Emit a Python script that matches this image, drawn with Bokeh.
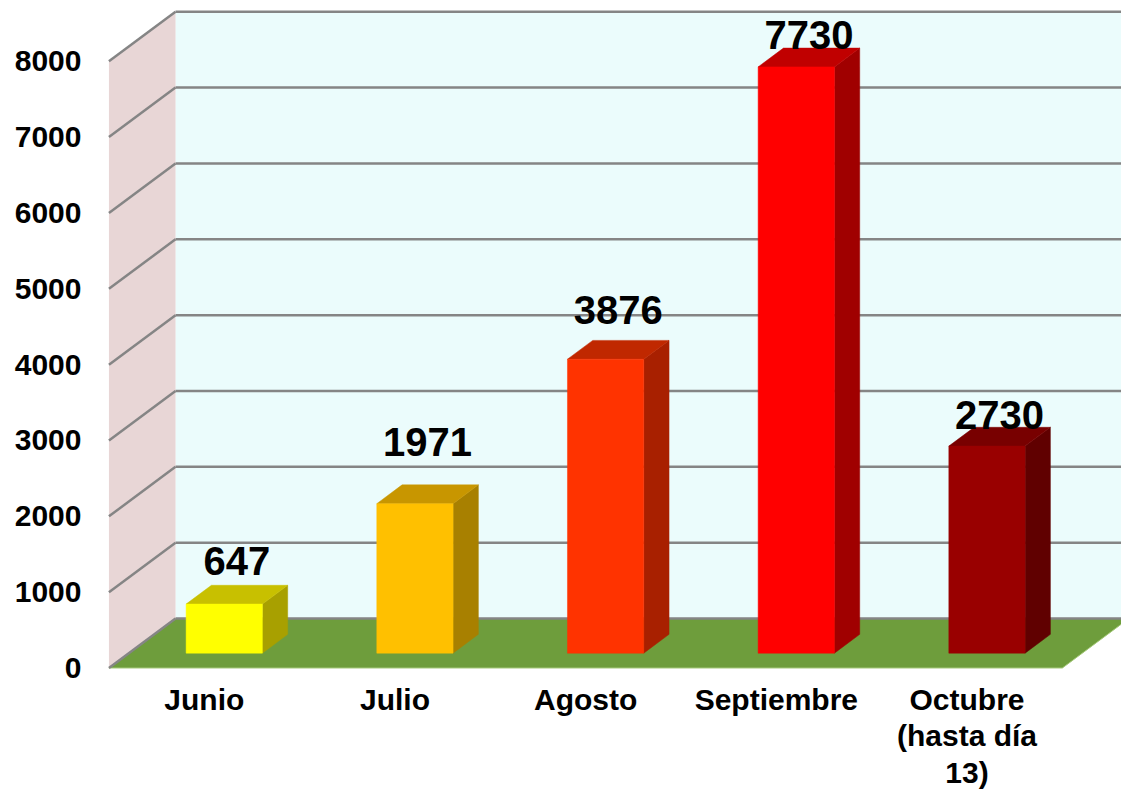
from bokeh.plotting import figure
from bokeh.models import Range1d, FixedTicker, ColumnDataSource
from bokeh.core.properties import value
from bokeh.embed import file_html
from bokeh.resources import INLINE

# ---- data ----
categories = ["Junio", "Julio", "Agosto", "Septiembre", "Octubre\n(hasta día\n13)"]
values = [647, 1971, 3876, 7730, 2730]
y_ticks = [0, 1000, 2000, 3000, 4000, 5000, 6000, 7000, 8000]

# ---- styles ----
front_colors = ["#FFFF00", "#FFC000", "#FF3300", "#FF0000", "#990000"]
top_colors = ["#C8C000", "#C89600", "#C02800", "#C00000", "#780000"]
side_colors = ["#A8A000", "#A88000", "#A82000", "#A00000", "#600000"]
label_offset_px = [8, 27, 14, -3, -4]   # label baseline above bar's back top edge

FONT = "Liberation Sans"
W, H = 1121, 792
SX, SY = W / 1137.0, H / 808.0          # reference px -> figure px
SLOT_PX = 193.4 * SX
PX_PER_VAL = (681 - 62) / 8000.0 * SY
FRONT_X0 = 110 * SX
FRONT_Y0 = 681 * SY
FRAME_LEFT = 98
DX = 67.5 / 193.4                        # depth offset in slot units
DY = 50.5 / ((681 - 62) / 8000.0)        # depth offset in value units
BAR_W = 0.40
D0, D1 = 0.30, 0.68
YMAX = 8000
VAL_FS, AX_FS = 40, 30
VAL_SHIFT = 6                            # px, calibration of text box

x0 = (FRAME_LEFT - FRONT_X0) / SLOT_PX
x1 = (W - FRONT_X0) / SLOT_PX
y0 = -(H - FRONT_Y0) / PX_PER_VAL
y1 = FRONT_Y0 / PX_PER_VAL

p = figure(width=W, height=H, output_backend="svg", toolbar_location=None,
           x_range=Range1d(x0, x1), y_range=Range1d(y0, y1),
           x_axis_location=None, y_axis_location="left",
           min_border_left=FRAME_LEFT, min_border_right=0,
           min_border_top=0, min_border_bottom=0)
p.outline_line_color = None
p.xgrid.visible = False
p.ygrid.visible = False
p.background_fill_color = "white"
p.border_fill_color = "white"

ax = p.yaxis[0]
ax.ticker = FixedTicker(ticks=y_ticks)
ax.axis_line_color = None
ax.major_tick_line_color = None
ax.minor_tick_line_color = None
ax.major_tick_out = 0
ax.major_tick_in = 0
ax.major_label_standoff = 17
ax.major_label_text_font = FONT
ax.major_label_text_font_style = "bold"
ax.major_label_text_font_size = f"{AX_FS}px"
ax.major_label_text_color = "black"

n = len(categories)
# walls and floor
p.patch([DX, n + DX + 1, n + DX + 1, DX], [DY, DY, YMAX + DY, YMAX + DY],
        fill_color="#EBFCFC", line_color=None)
p.patch([0, DX, DX, 0], [0, DY, YMAX + DY, YMAX],
        fill_color="#E8D6D6", line_color=None)
p.patch([0, n, n + DX, DX], [0, 0, DY, DY],
        fill_color="#6E9D3C", line_color="#A5C97A", line_width=1)

# gridlines
for t in y_ticks:
    p.line([DX, n + DX + 1], [t + DY, t + DY], line_color="#858585", line_width=2.5)
    p.line([0, DX], [t, t + DY], line_color="#858585", line_width=2.5)

# bars
fx, fy, tx, ty, sx, sy = [], [], [], [], [], []
for i, v in enumerate(values):
    c = i + 0.5
    xl = c - BAR_W / 2 + D0 * DX
    xr = c + BAR_W / 2 + D0 * DX
    b = D0 * DY
    t = v + D0 * DY
    d = (D1 - D0)
    fx.append([xl, xr, xr, xl]); fy.append([b, b, t, t])
    tx.append([xl, xr, xr + d * DX, xl + d * DX]); ty.append([t, t, t + d * DY, t + d * DY])
    sx.append([xr, xr + d * DX, xr + d * DX, xr]); sy.append([b, b + d * DY, t + d * DY, t])

p.patches(sx, sy, fill_color=side_colors, line_color=side_colors, line_width=0.5)
p.patches(tx, ty, fill_color=top_colors, line_color=top_colors, line_width=0.5)
p.patches(fx, fy, fill_color=front_colors, line_color=front_colors, line_width=0.5)

# value labels
asc = 0.905
lab = ColumnDataSource(dict(
    x=[i + 0.5 + (D0 + (D1 - D0) / 2) * DX for i in range(n)],
    y=[v + D1 * DY + (off * SY + asc * VAL_FS - VAL_SHIFT) / PX_PER_VAL
       for v, off in zip(values, label_offset_px)],
    text=[str(v) for v in values]))
p.text(x="x", y="y", text="text", source=lab, text_font=value(FONT),
       text_font_style="bold", text_font_size=f"{VAL_FS}px", text_color="black",
       text_align="center", text_baseline="top")

# category labels
cat_top_px = 702 * SY - (asc - 0.716) * AX_FS
cat = ColumnDataSource(dict(
    x=[i + 0.5 for i in range(n)],
    y=[-(cat_top_px - FRONT_Y0) / PX_PER_VAL] * n,
    text=categories))
p.text(x="x", y="y", text="text", source=cat, text_font=value(FONT),
       text_font_style="bold", text_font_size=f"{AX_FS}px", text_color="black",
       text_align="center", text_baseline="top", text_line_height=1.1)

open("out.html", "w").write(file_html(p, INLINE))
